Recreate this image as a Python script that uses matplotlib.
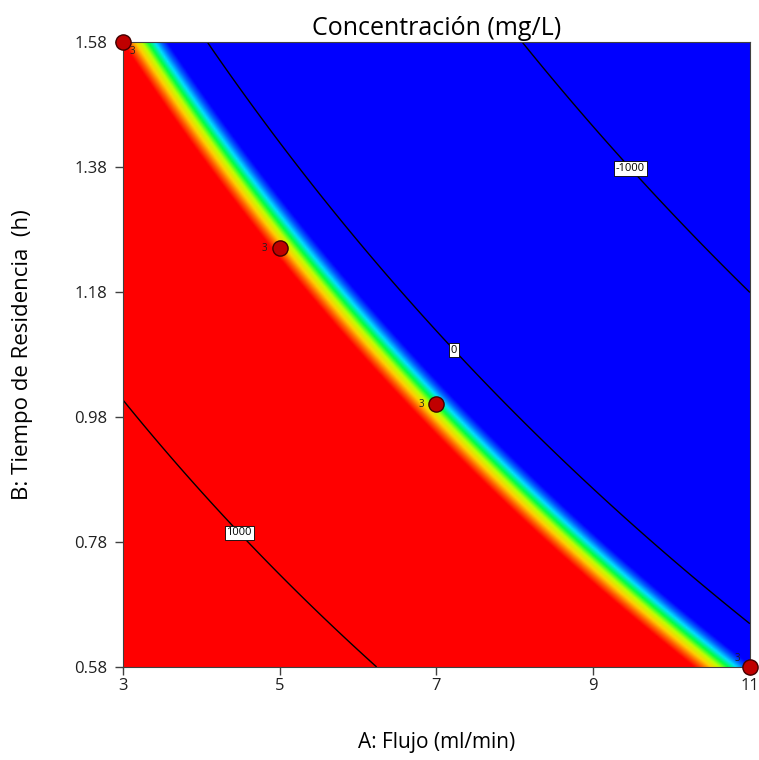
import numpy as np
import matplotlib.pyplot as plt
from matplotlib.colors import LinearSegmentedColormap

plt.rcParams['font.family'] = ['Open Sans', 'DejaVu Sans']

# puntos leidos sobre las curvas de nivel (A: flujo, B: tiempo, nivel)
lev0_A = [4.05, 4.56, 5.54, 6.64, 7.25, 8.46, 11.0]
lev0_B = [1.58, 1.486, 1.326, 1.166, 1.09, 0.926, 0.655]
levm1000_A = [8.13, 8.68, 9.52, 9.85, 11.0]
levm1000_B = [1.58, 1.486, 1.383, 1.326, 1.169]
lev1000_A = [3.0, 3.55, 4.52, 6.15]
lev1000_B = [1.007, 0.926, 0.799, 0.58]
# centro de la banda verde
band_A = [3.34, 3.73, 4.68, 5.72, 7.05, 7.49, 10.62]
band_B = [1.58, 1.486, 1.326, 1.166, 1.0, 0.926, 0.58]
band_level = 200

# puntos del diseño
design_A = [3, 5, 7, 11]
design_B = [1.58, 1.25, 1.0, 0.58]
design_n = ['3', '3', '3', '3']

xticks = [3, 5, 7, 9, 11]
yticks = [0.58, 0.78, 0.98, 1.18, 1.38, 1.58]
levels = [-1000, 0, 1000]


def terms(A, B):
    a = (np.asarray(A) - 7) / 4.0
    b = (np.asarray(B) - 1.08) / 0.5
    return np.stack([np.ones_like(a), a, b, a * b, a ** 2, b ** 2], axis=-1)


A_all = np.concatenate([lev0_A, levm1000_A, lev1000_A, band_A])
B_all = np.concatenate([lev0_B, levm1000_B, lev1000_B, band_B])
z_all = np.concatenate([np.zeros(len(lev0_A)), -1000 * np.ones(len(levm1000_A)),
                        1000 * np.ones(len(lev1000_A)), band_level * np.ones(len(band_A))])
coef = np.linalg.lstsq(terms(A_all, B_all), z_all, rcond=None)[0]

X, Y = np.meshgrid(np.linspace(3, 11, 400), np.linspace(0.58, 1.58, 400))
Z = terms(X, Y) @ coef

cmap = LinearSegmentedColormap.from_list(
    'de', ['#0000ff', '#0060ff', '#00e0ff', '#00ff40', '#c0ff00', '#ffd000', '#ff6000', '#ff0000'])

fig = plt.figure(figsize=(7.59, 7.60), dpi=100)
ax = fig.add_axes([0.162, 0.1224, 0.826, 0.8223])

ax.imshow(Z, extent=[3, 11, 0.58, 1.58], origin='lower', aspect='auto',
          cmap=cmap, vmin=band_level - 75, vmax=band_level + 65, interpolation='bilinear')
cs = ax.contour(X, Y, Z, levels=levels, colors='black', linewidths=1.0, linestyles='solid')
lbls = ax.clabel(cs, fmt='%d', fontsize=8, inline=False,
                 manual=[(9.52, 1.383), (7.25, 1.09), (4.52, 0.799)])
for t in lbls:
    t.set_rotation(0)
    t.set_bbox(dict(facecolor='white', edgecolor='black', linewidth=0.6, pad=1.2))

ax.scatter(design_A, design_B, s=120, c='#c00000', edgecolors='#400000',
           linewidths=1.0, zorder=5, clip_on=False)
offsets = [(7, -7), (-11, 0), (-11, 0), (-9, 6)]
for a, b, n, off in zip(design_A, design_B, design_n, offsets):
    ax.annotate(n, (a, b), xytext=off, textcoords='offset points', fontsize=7,
                color='#202020', ha='center', va='center', zorder=6)

ax.set_xlim(3, 11)
ax.set_ylim(0.58, 1.58)
ax.set_xticks(xticks)
ax.set_yticks(yticks)
ax.set_xticklabels([str(v) for v in xticks])
ax.set_yticklabels(['%.2f' % v for v in yticks])
ax.tick_params(direction='out', length=6, width=1, color='#404040', labelsize=12,
               labelcolor='#202020')
ax.tick_params(axis='x', pad=2)
ax.tick_params(axis='y', pad=5)
for s in ax.spines.values():
    s.set_color('#404040')

ax.set_title('Concentración (mg/L)', fontsize=18, pad=5)
ax.set_xlabel('A: Flujo (ml/min)', fontsize=15, labelpad=27)
ax.set_ylabel('B: Tiempo de Residencia  (h)', fontsize=16, labelpad=30)

fig.savefig('out.png', dpi=100)
